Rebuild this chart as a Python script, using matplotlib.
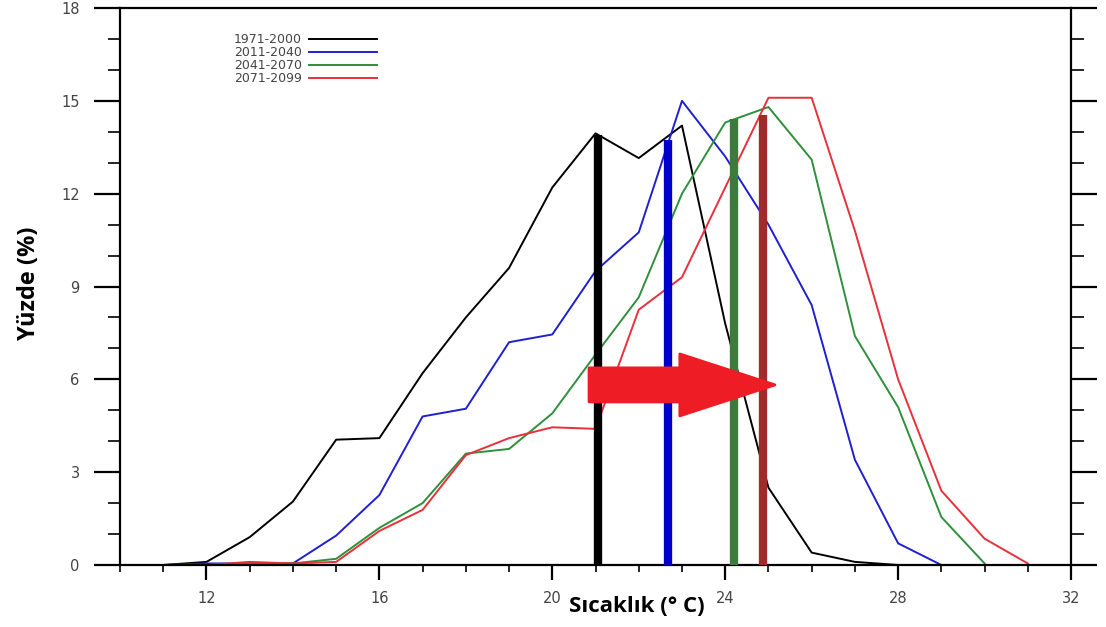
import matplotlib
matplotlib.use("Agg")
import matplotlib.pyplot as plt
from matplotlib.patches import FancyArrow
from matplotlib.ticker import MultipleLocator

# Verileri hazirla
periods = ['1971-2000', '2011-2040', '2041-2070', '2071-2099']
line_colors = ['black', '#1f1fd0', '#2f8f3a', '#e8303a']

x_black = list(range(10, 29))
y_black = [0, 0, 0.1, 0.9, 2.05, 4.05, 4.1, 6.2, 8.0, 9.6, 12.2, 13.95, 13.15, 14.2, 7.8, 2.5, 0.4, 0.1, 0]

x_blue = list(range(10, 30))
y_blue = [0, 0, 0.05, 0.05, 0.05, 0.95, 2.26, 4.8, 5.05, 7.2, 7.45, 9.5, 10.75, 15.0, 13.2, 11.0, 8.4, 3.4, 0.7, 0]

x_green = list(range(10, 31))
y_green = [0, 0, 0, 0.05, 0.05, 0.2, 1.2, 2.0, 3.6, 3.75, 4.9, 6.8, 8.65, 12.0, 14.3, 14.8, 13.1, 7.4, 5.1, 1.55, 0.05]

x_red = list(range(10, 32))
y_red = [0, 0, 0, 0.1, 0.05, 0.1, 1.1, 1.78, 3.55, 4.1, 4.45, 4.4, 8.25, 9.3, 12.2, 15.1, 15.1, 10.8, 6.0, 2.4, 0.85, 0.05]

# ortalama sicaklik cubuklari
bar_x = [21.05, 22.68, 24.2, 24.88]
bar_top = [13.9, 13.75, 14.4, 14.55]
bar_colors = ['black', '#0000cc', '#3d7a3d', '#a32a2c']

# Grafik
fig = plt.figure(figsize=(11.06, 6.27), dpi=100)
ax = fig.add_axes([0.1085, 0.0989, 0.8599, 0.8883])

series = [(x_black, y_black), (x_blue, y_blue), (x_green, y_green), (x_red, y_red)]
for (xs, ys), lab, col in zip(series, periods, line_colors):
    ax.plot(xs, ys, color=col, lw=1.4, label=lab)

for bx, bt, bc in zip(bar_x, bar_top, bar_colors):
    ax.vlines(bx, 0, bt, color=bc, lw=6, zorder=4)

# kirmizi ok
arrow = FancyArrow(20.85, 5.82, 2.1, 0, width=1.1, head_width=2.0, head_length=2.2,
                   length_includes_head=False, color='#ee1c24', lw=2, joinstyle='round', zorder=6)
ax.add_patch(arrow)

ax.set_xlim(10, 32)
ax.set_ylim(0, 18)
ax.xaxis.set_major_locator(MultipleLocator(4))
ax.xaxis.set_minor_locator(MultipleLocator(1))
ax.yaxis.set_major_locator(MultipleLocator(3))
ax.yaxis.set_minor_locator(MultipleLocator(1))
ax.set_xticks([12, 16, 20, 24, 28, 32])

for s in ax.spines.values():
    s.set_linewidth(1.6)

ax.tick_params(axis='x', which='major', direction='out', length=11, width=1.6, pad=8,
               labelsize=10.5, labelcolor='#444444')
ax.tick_params(axis='x', which='minor', direction='out', length=5, width=1.2)
ax.tick_params(axis='y', which='major', direction='out', length=19, width=1.6, pad=10,
               labelsize=10.5, labelcolor='#444444', right=True)
ax.tick_params(axis='y', which='minor', direction='out', length=9, width=1.2, right=True)
for lbl in ax.get_xticklabels() + ax.get_yticklabels():
    lbl.set_family('DejaVu Sans')

leg = ax.legend(loc='upper right', bbox_to_anchor=(0.2766, 0.966), frameon=False, markerfirst=False,
                handlelength=5.4, handletextpad=0.6, labelspacing=0.0, borderpad=0,
                prop={'family': 'DejaVu Sans', 'size': 9})
for t in leg.get_texts():
    t.set_color('#444444')

fig.text(0.576, 0.032, 'Sıcaklık (° C)', ha='center', va='center', fontsize=16,
         fontweight='bold', family='Open Sans')
fig.text(0.026, 0.549, 'Yüzde (%)', ha='center', va='center', rotation=90, fontsize=17,
         fontweight='bold', family='Open Sans')

fig.savefig('out.png', dpi=100)
